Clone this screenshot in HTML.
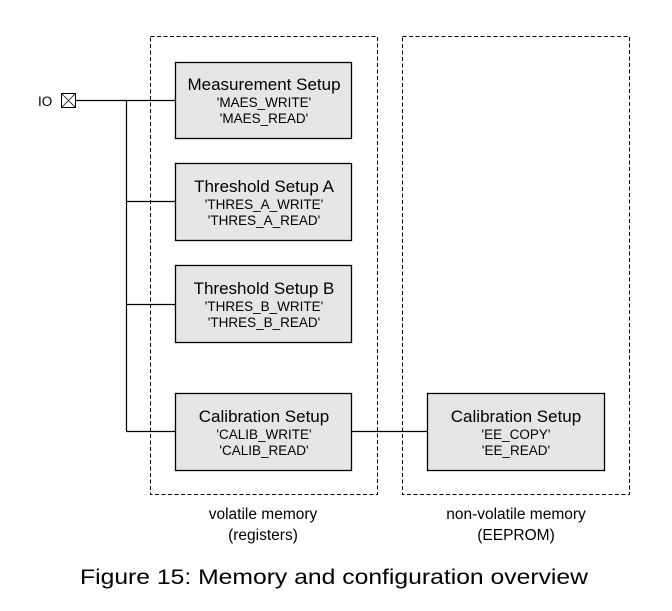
<!DOCTYPE html>
<html><head><style>body{margin:0;background:#fff}svg{display:block}</style></head>
<body>
<svg width="672" height="611" viewBox="0 0 672 611" xmlns="http://www.w3.org/2000/svg" font-family="Liberation Sans, Arial, sans-serif">
<rect x="150.5" y="36.5" width="227" height="458" fill="none" stroke="#000" stroke-dasharray="4,2.5"/>
<rect x="402.5" y="36.5" width="227" height="458" fill="none" stroke="#000" stroke-dasharray="4,2.5"/>
<g stroke="#000" stroke-width="1.2" fill="none">
<line x1="76" y1="100.5" x2="176" y2="100.5"/>
<line x1="126.5" y1="100" x2="126.5" y2="431"/>
<line x1="126" y1="201.5" x2="176" y2="201.5"/>
<line x1="126" y1="304.5" x2="176" y2="304.5"/>
<line x1="126" y1="431.5" x2="176" y2="431.5"/>
<line x1="352" y1="431.5" x2="428" y2="431.5"/>
</g>
<g stroke="#000" stroke-width="1.3" fill="#e6e6e6">
<rect x="175.5" y="62.5" width="176" height="76"/>
<rect x="175.5" y="163.5" width="176" height="77"/>
<rect x="175.5" y="265.5" width="176" height="77"/>
<rect x="175.5" y="393.5" width="176" height="77"/>
<rect x="427.5" y="393.5" width="177" height="77"/>
</g>
<rect x="61.5" y="93.5" width="14" height="14" fill="#fff" stroke="#000"/>
<path d="M61.5 93.5L75.5 107.5M75.5 93.5L61.5 107.5" stroke="#000" stroke-width="0.8"/>
<text x="38" y="106" font-size="13.5" fill="#000">IO</text>
<g text-anchor="middle" fill="#000">
<text x="264" y="90" font-size="17">Measurement Setup</text>
<text x="264" y="107" font-size="13.5">'MAES_WRITE'</text>
<text x="264" y="123" font-size="13.5">'MAES_READ'</text>
<text x="264" y="192" font-size="17">Threshold Setup A</text>
<text x="264" y="209" font-size="13.5">'THRES_A_WRITE'</text>
<text x="264" y="225" font-size="13.5">'THRES_A_READ'</text>
<text x="264" y="294" font-size="17">Threshold Setup B</text>
<text x="264" y="311" font-size="13.5">'THRES_B_WRITE'</text>
<text x="264" y="327" font-size="13.5">'THRES_B_READ'</text>
<text x="264" y="422" font-size="17">Calibration Setup</text>
<text x="264" y="439" font-size="13.5">'CALIB_WRITE'</text>
<text x="264" y="455" font-size="13.5">'CALIB_READ'</text>
<text x="516" y="422" font-size="17">Calibration Setup</text>
<text x="516" y="439" font-size="13.5">'EE_COPY'</text>
<text x="516" y="455" font-size="13.5">'EE_READ'</text>
<text x="263" y="519" font-size="15.5">volatile memory</text>
<text x="263" y="540" font-size="15.5">(registers)</text>
<text x="516" y="519" font-size="15.5">non-volatile memory</text>
<text x="516" y="540" font-size="15.5">(EEPROM)</text>
</g>
<text x="80" y="584" font-size="21" textLength="508" lengthAdjust="spacingAndGlyphs" fill="#000">Figure 15: Memory and configuration overview</text>
</svg>
</body></html>
